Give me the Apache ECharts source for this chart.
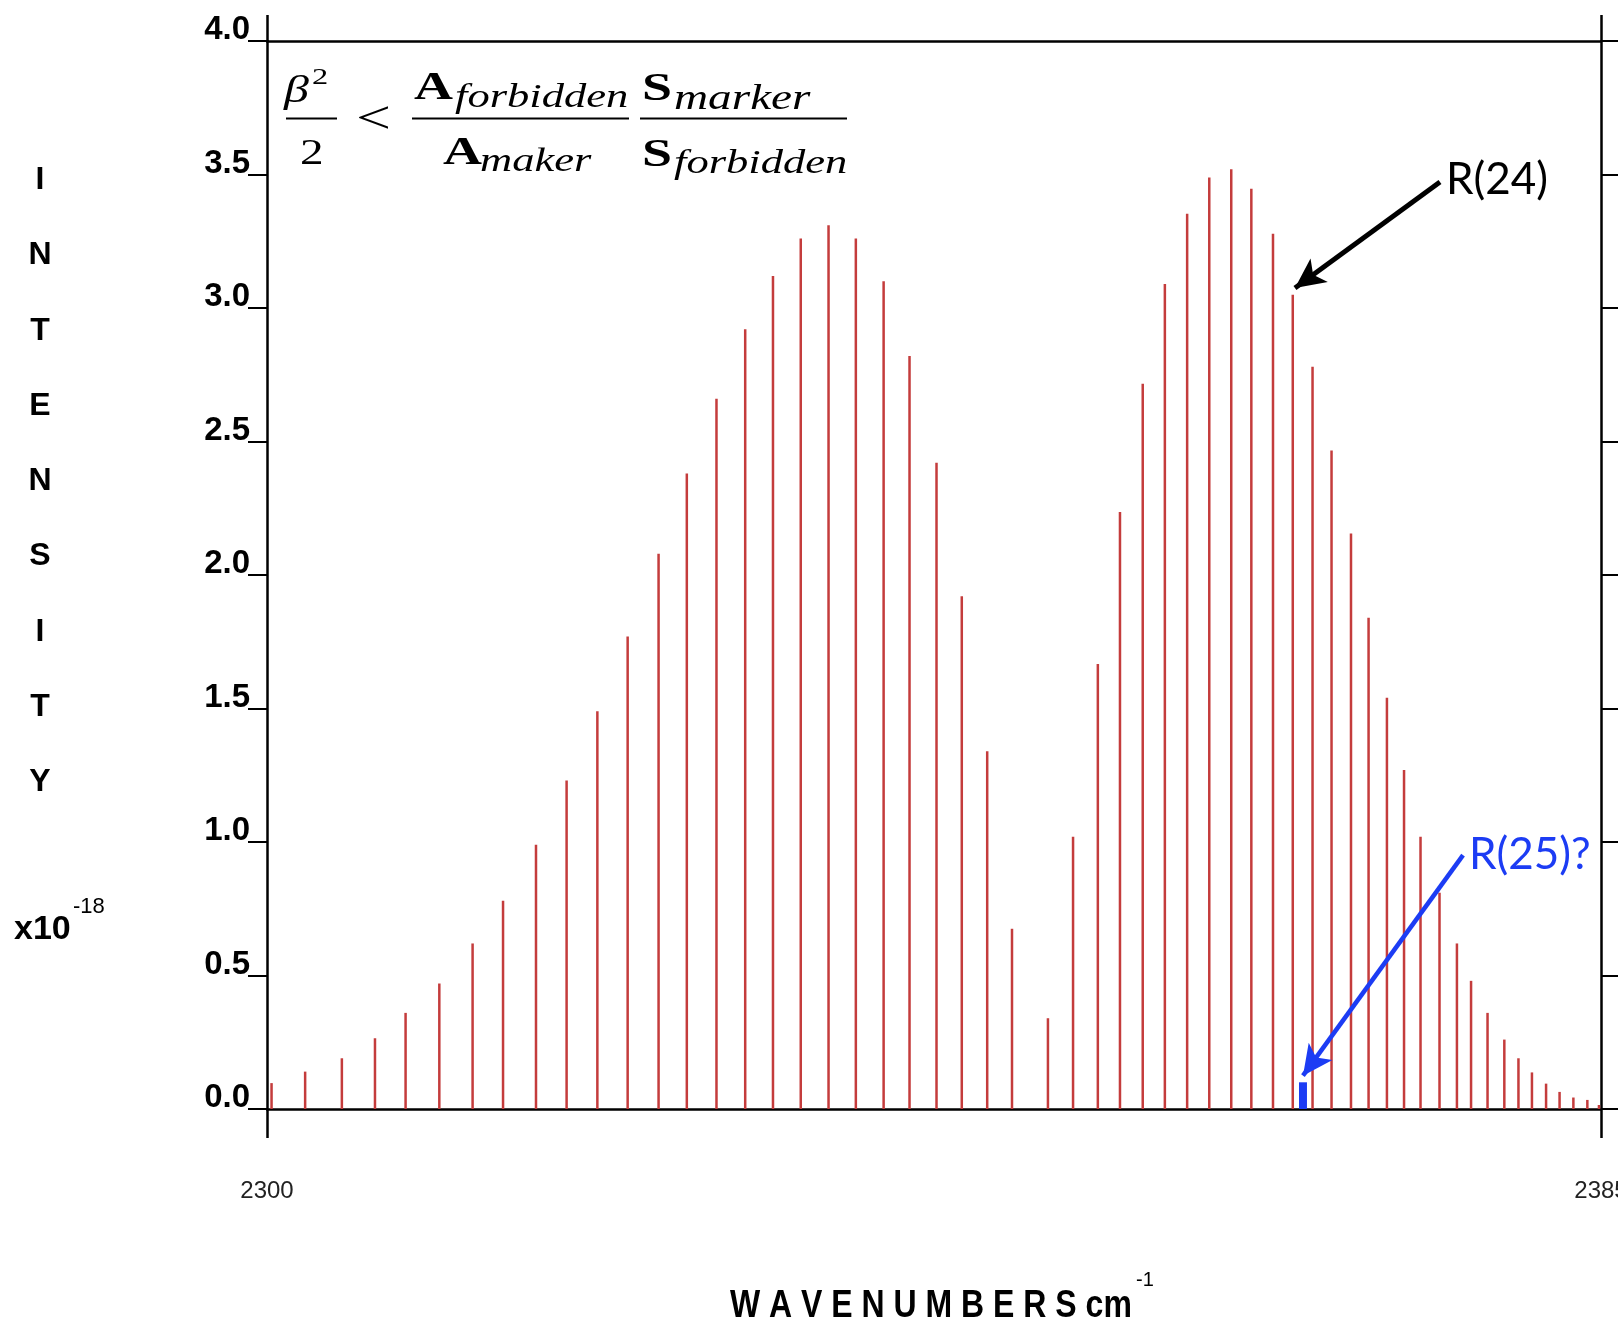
<!DOCTYPE html>
<html>
<head>
<meta charset="utf-8">
<script src="https://cdn.jsdelivr.net/npm/echarts@6/dist/echarts.min.js"></script>
<style>
html,body{margin:0;padding:0;background:#fff;}
#chart{width:1618px;height:1326px;}
</style>
</head>
<body>
<div id="chart"></div>
<script>
// ---- data (wavenumber cm-1, intensity x10^-18) ----
const branch1X = [2300.29, 2302.43, 2304.77, 2306.88, 2308.83, 2310.98, 2313.10, 2315.04, 2317.14, 2319.09,
  2321.05, 2322.98, 2324.95, 2326.75, 2328.64, 2330.47, 2332.24, 2334.01, 2335.78, 2337.52,
  2339.29, 2340.94, 2342.66, 2344.27, 2345.89, 2347.47];
const branch1Y = [0.097, 0.14, 0.19, 0.265, 0.36, 0.47, 0.62, 0.78, 0.99, 1.23,
  1.49, 1.77, 2.08, 2.38, 2.66, 2.92, 3.12, 3.26, 3.31, 3.26,
  3.10, 2.82, 2.42, 1.92, 1.34, 0.675];
const branch2X = [2349.76, 2351.36, 2352.94, 2354.35, 2355.80, 2357.21, 2358.63, 2360.04, 2361.44, 2362.72,
  2364.10, 2365.36, 2366.62, 2367.83, 2369.07, 2370.19, 2371.36, 2372.45, 2373.50, 2374.71,
  2375.82, 2376.72, 2377.77, 2378.84, 2379.74, 2380.60, 2381.50, 2382.36, 2383.24, 2384.13, 2384.87];
const branch2Y = [0.34, 1.02, 1.667, 2.236, 2.716, 3.09, 3.353, 3.489, 3.52, 3.447,
  3.278, 3.05, 2.78, 2.466, 2.155, 1.84, 1.54, 1.27, 1.02, 0.81,
  0.62, 0.48, 0.36, 0.26, 0.19, 0.137, 0.095, 0.064, 0.043, 0.034, 0.015];
const markerX = [2366.01];
const markerY = [0.10];
const xTicks = [2300, 2385];
const arrowR24 = [[2374.74, 3.472], [2365.50, 3.075]];
const arrowR25 = [[2376.21, 0.951], [2366.01, 0.125]];

const lineData = branch1X.map((x, i) => [x, branch1Y[i]])
  .concat(branch2X.map((x, i) => [x, branch2Y[i]]));
const markerData = markerX.map((x, i) => [x, markerY[i]]);

function stick(color, width) {
  return function (params, api) {
    const x = api.value(0), y = api.value(1);
    const p0 = api.coord([x, 0]);
    const p1 = api.coord([x, y]);
    return {
      type: 'line',
      shape: { x1: p0[0], y1: p0[1], x2: p1[0], y2: p1[1] },
      style: { stroke: color, lineWidth: width }
    };
  };
}

const chart = echarts.init(document.getElementById('chart'), null, { renderer: 'canvas' });

const serif = '"Liberation Serif", "DejaVu Serif", serif';
const SX = 1.35;
const DY = 4;
function ftext(x, y, text, font) {
  return { type: 'text', x: x, y: y + DY, scaleX: SX, silent: true,
    style: { text: text, font: font, fill: '#000', verticalAlign: 'middle', align: 'left' } };
}
function bar(x1, x2, y) {
  return { type: 'line', silent: true, shape: { x1: x1, y1: y, x2: x2, y2: y },
    style: { stroke: '#000', lineWidth: 2 } };
}
const bold = 'bold 40px ' + serif;
const ital = 'italic 33px ' + serif;
const reg = '35px ' + serif;
const AX = 2.5;

const option = {
  animation: false,
  backgroundColor: '#fff',
  grid: { left: 267, right: 17, top: 41, bottom: 217, containLabel: false, outerBoundsMode: 'none' },
  xAxis: [{
    type: 'value', min: 2300, max: 2385, position: 'bottom',
    axisLine: { show: true, onZero: false, lineStyle: { color: '#000', width: AX } },
    axisTick: { show: true, length: 29, inside: false, customValues: xTicks, lineStyle: { color: '#000', width: AX } },
    axisLabel: { show: true, customValues: xTicks, margin: 70, color: '#222',
      fontFamily: '"Liberation Sans", Arial, sans-serif', fontSize: 24,
      formatter: v => String(v) },
    splitLine: { show: false }
  }, {
    type: 'value', min: 2300, max: 2385, position: 'top',
    axisLine: { show: true, onZero: false, lineStyle: { color: '#000', width: AX } },
    axisTick: { show: true, length: 26, inside: false, customValues: xTicks, lineStyle: { color: '#000', width: AX } },
    axisLabel: { show: false },
    splitLine: { show: false }
  }],
  yAxis: [{
    type: 'value', min: 0, max: 4, interval: 0.5, position: 'left',
    axisLine: { show: true, lineStyle: { color: '#000', width: AX } },
    axisTick: { show: true, length: 19, inside: false, lineStyle: { color: '#000', width: 2 } },
    axisLabel: { show: true, margin: 17, color: '#000', verticalAlign: 'bottom', lineHeight: 22,
      fontFamily: '"Liberation Sans", Arial, sans-serif', fontWeight: 'bold', fontSize: 33,
      formatter: v => v.toFixed(1) },
    splitLine: { show: false }
  }, {
    type: 'value', min: 0, max: 4, interval: 0.5, position: 'right',
    axisLine: { show: true, lineStyle: { color: '#000', width: AX } },
    axisTick: { show: true, length: 17, inside: false, lineStyle: { color: '#000', width: 2 } },
    axisLabel: { show: false },
    splitLine: { show: false }
  }],
  series: [{
    type: 'custom', name: 'lines', xAxisIndex: 0, yAxisIndex: 0,
    renderItem: stick('#c43c3c', 2.5),
    encode: { x: 0, y: 1 },
    data: lineData, silent: true
  }, {
    type: 'custom', name: 'marker', xAxisIndex: 0, yAxisIndex: 0,
    renderItem: stick('#1c3cf4', 8),
    encode: { x: 0, y: 1 },
    data: markerData, silent: true
  }, {
    type: 'scatter', name: 'arrows', xAxisIndex: 0, yAxisIndex: 0,
    data: [], silent: true,
    markLine: {
      silent: true, animation: false,
      symbol: ['none', 'arrow'], symbolSize: [22, 30],
      label: { show: false },
      emphasis: { disabled: true },
      data: [
        [{ coord: arrowR24[0], lineStyle: { color: '#000', width: 5, type: 'solid' }, itemStyle: { color: '#000' } },
         { coord: arrowR24[1] }],
        [{ coord: arrowR25[0], lineStyle: { color: '#1c3cf4', width: 4.5, type: 'solid' }, itemStyle: { color: '#1c3cf4' } },
         { coord: arrowR25[1] }]
      ]
    }
  }],
  graphic: [
    // y-axis title
    { type: 'text', x: 40, y: 142.5, silent: true,
      style: { text: 'I\nN\nT\nE\nN\nS\nI\nT\nY', font: 'bold 32px "Liberation Sans", Arial, sans-serif',
        lineHeight: 75.3, fill: '#000', align: 'center', verticalAlign: 'top' } },
    { type: 'text', x: 14, y: 930, silent: true,
      style: { text: 'x10', font: 'bold 34px "Liberation Sans", Arial, sans-serif', fill: '#000',
        align: 'left', verticalAlign: 'middle' } },
    { type: 'text', x: 73, y: 907, silent: true,
      style: { text: '-18', font: '22px "Liberation Sans", Arial, sans-serif', fill: '#000',
        align: 'left', verticalAlign: 'middle' } },
    // x-axis title
    { type: 'text', x: 730, y: 1306, scaleY: 1.2, silent: true,
      style: { text: 'W A V E N U M B E R S cm', font: 'bold 32px "Liberation Sans", Arial, sans-serif',
        fill: '#000', align: 'left', verticalAlign: 'middle' } },
    { type: 'text', x: 1136, y: 1280, silent: true,
      style: { text: '-1', font: '20px "Liberation Sans", Arial, sans-serif', fill: '#000',
        align: 'left', verticalAlign: 'middle' } },
    // annotations
    { type: 'text', x: 1446, y: 180, silent: true,
      style: { text: 'R(24)', font: '44px Lato, "Open Sans", sans-serif', fill: '#000',
        align: 'left', verticalAlign: 'middle' } },
    { type: 'text', x: 1469, y: 855, silent: true,
      style: { text: 'R(25)?', font: '44px Lato, "Open Sans", sans-serif', fill: '#1c3cf4',
        align: 'left', verticalAlign: 'middle' } },
    // formula
    ftext(284, 88, 'β', 'italic 37px ' + serif),
    ftext(312, 74, '2', '24px ' + serif),
    bar(286, 337, 118.5),
    ftext(300, 151, '2', reg),
    ftext(356, 117, '<', '46px ' + serif),
    bar(412, 629, 118.5),
    ftext(414, 84.5, 'A', bold),
    ftext(455, 94.8, 'forbidden', ital),
    ftext(443, 150, 'A', bold),
    ftext(480, 158.8, 'maker', ital),
    bar(640, 847, 118.5),
    ftext(642, 85.5, 'S', bold),
    ftext(674, 95.8, 'marker', 'italic 35px ' + serif),
    ftext(642, 152, 'S', bold),
    ftext(674, 160.8, 'forbidden', ital)
  ]
};
chart.setOption(option);
</script>
</body>
</html>
